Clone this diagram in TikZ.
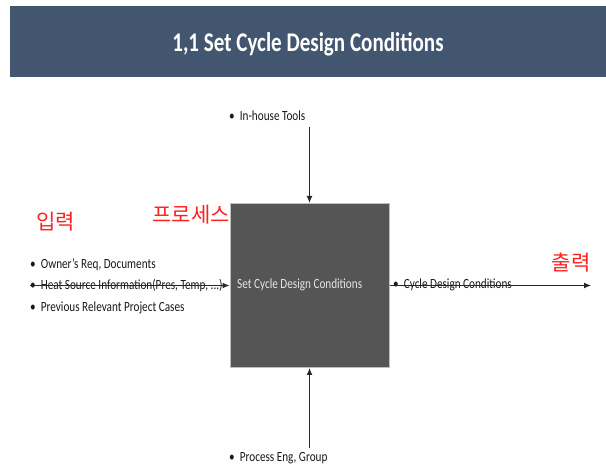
\documentclass[tikz,border=0pt]{standalone}
\usepackage{fontspec}
\usepackage{graphicx}
\setmainfont{Carlito}
\newfontfamily\kr{Noto Sans CJK KR}
\usetikzlibrary{arrows.meta}
\definecolor{banner}{HTML}{42566F}
\definecolor{boxgray}{HTML}{555555}
\definecolor{kred}{HTML}{FF2020}
\tikzset{
  lbl/.style={anchor=west, inner sep=0pt, font=\fontsize{14}{14}\selectfont, text=black!90},
  korean/.style={inner sep=0pt, font=\kr\fontsize{21}{21}\selectfont, text=kred},
  flow/.style={draw=black!85, line width=1.1pt, -{Latex[length=7pt,width=6pt]}},
}
\begin{document}
\begin{tikzpicture}[x=1pt,y=-1pt]
\useasboundingbox[fill=white] (0,0) rectangle (606,470);
% banner
\fill[banner] (10,6) rectangle (606,77);
\node[inner sep=0pt, text=white, font=\bfseries\fontsize{27}{27}\selectfont] (title) at (308,44) {\scalebox{0.78}[1]{1,1 Set Cycle Design Conditions}};
% process box
\node[draw=black!25, line width=1pt, fill=boxgray, minimum width=159pt, minimum height=164pt, inner sep=0pt] (proc) at (309.5,285.5) {};
\node[lbl, text=white!90!black] (proctext) at (237,285) {\scalebox{0.8}[1]{Set Cycle Design Conditions}};
% korean labels
\node[korean] (in) at (56,222) {입력};
\node[korean] (pr) at (191,215) {프로세스};
\node[korean] (out) at (571,263) {출력};
% inputs
\node[lbl] (i1) at (30,265) {\scalebox{0.8}[1]{\textbullet\ \ Owner's Req, Documents}};
\node[lbl] (i2) at (30,286) {\scalebox{0.8}[1]{\textbullet\ \ Heat Source Information(Pres, Temp, ...)}};
\node[lbl] (i3) at (30,308) {\scalebox{0.8}[1]{\textbullet\ \ Previous Relevant Project Cases}};
\coordinate (inStart) at (30,285.5);
\draw[flow] (inStart) -- (proc.west);
% control
\node[lbl] (ctrl) at (229,116) {\scalebox{0.8}[1]{\textbullet\ \ In-house Tools}};
\coordinate (ctrlStart) at (309.5,127);
\draw[flow] (ctrlStart) -- (proc.north);
% mechanism
\node[lbl] (mech) at (229,458) {\scalebox{0.8}[1]{\textbullet\ \ Process Eng, Group}};
\coordinate (mechStart) at (309.5,448);
\draw[flow] (mechStart) -- (proc.south);
% output
\node[lbl] (o1) at (393,285) {\scalebox{0.8}[1]{\textbullet\ \ Cycle Design Conditions}};
\coordinate (outEnd) at (591,285.5);
\draw[flow] (proc.east) -- (outEnd);
\end{tikzpicture}
\end{document}
